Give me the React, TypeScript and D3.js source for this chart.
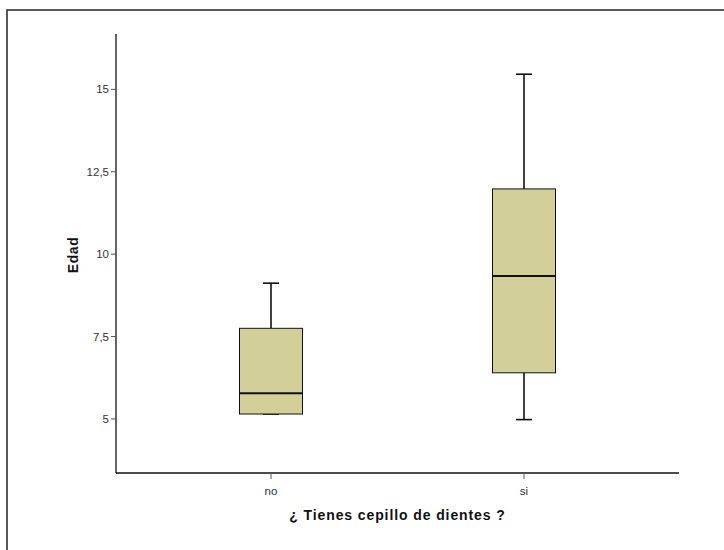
import React from "react";
import * as d3 from "d3";

// Categories and five-number summaries per group
const categories = ["no", "si"];
const whiskerLow = [5.15, 4.98];
const q1 = [5.15, 6.4];
const median = [5.78, 9.34];
const q3 = [7.75, 11.98];
const whiskerHigh = [9.12, 15.46];

const yTicks = [5, 7.5, 10, 12.5, 15];

const W = 724;
const H = 550;
const plotLeft = 116;
const plotRight = 679;
const plotTop = 34;
const plotBottom = 473;

const fmt = (v: number) => String(v).replace(".", ",");

export default function App() {
  const y = d3.scaleLinear().domain([3.36, 16.68]).range([plotBottom, plotTop]);
  const x = d3
    .scalePoint<string>()
    .domain(categories)
    .range([plotLeft, plotRight])
    .padding(0.6126);

  const boxW = 63;
  const capW = 16;
  const font = "'Liberation Sans', Arial, sans-serif";

  return (
    <svg
      width={W}
      height={H}
      style={{ position: "absolute", left: 0, top: 0, background: "#fff" }}
    >
      {/* outer frame */}
      <rect x={7} y={10} width={W + 20} height={H + 20} fill="none" stroke="#222" strokeWidth={1.5} />

      {/* boxes */}
      {categories.map((c, i) => {
        const cx = x(c)!;
        return (
          <g key={c}>
            <line x1={cx} x2={cx} y1={y(whiskerHigh[i])} y2={y(q3[i])} stroke="#111" strokeWidth={1.6} />
            <line x1={cx} x2={cx} y1={y(q1[i])} y2={y(whiskerLow[i])} stroke="#111" strokeWidth={1.6} />
            <line x1={cx - capW / 2} x2={cx + capW / 2} y1={y(whiskerHigh[i])} y2={y(whiskerHigh[i])} stroke="#111" strokeWidth={1.6} />
            <line x1={cx - capW / 2} x2={cx + capW / 2} y1={y(whiskerLow[i])} y2={y(whiskerLow[i])} stroke="#111" strokeWidth={1.6} />
            <rect
              x={cx - boxW / 2}
              y={y(q3[i])}
              width={boxW}
              height={y(q1[i]) - y(q3[i])}
              fill="#d3cf98"
              stroke="#111"
              strokeWidth={1}
            />
            <line x1={cx - boxW / 2} x2={cx + boxW / 2} y1={y(median[i])} y2={y(median[i])} stroke="#111" strokeWidth={2} />
          </g>
        );
      })}

      {/* y axis */}
      <line x1={plotLeft} x2={plotLeft} y1={plotTop} y2={plotBottom} stroke="#111" strokeWidth={1.3} />
      {yTicks.map((t) => (
        <g key={t}>
          <line x1={plotLeft - 5} x2={plotLeft} y1={y(t)} y2={y(t)} stroke="#555" strokeWidth={1} />
          <text
            x={plotLeft - 7}
            y={y(t)}
            dy="0.35em"
            textAnchor="end"
            fontFamily={font}
            fontSize={11.5}
            fill="#333"
          >
            {fmt(t)}
          </text>
        </g>
      ))}

      {/* x axis */}
      <line x1={plotLeft} x2={plotRight} y1={plotBottom} y2={plotBottom} stroke="#111" strokeWidth={1.3} />
      {categories.map((c) => (
        <g key={c}>
          <line x1={x(c)!} x2={x(c)!} y1={plotBottom} y2={plotBottom + 6} stroke="#555" strokeWidth={1} />
          <text x={x(c)!} y={plotBottom + 22} textAnchor="middle" fontFamily={font} fontSize={11.5} fill="#333">
            {c}
          </text>
        </g>
      ))}

      {/* axis titles */}
      <text
        transform={`translate(78, 255) rotate(-90)`}
        textAnchor="middle"
        fontFamily={font}
        fontWeight="bold"
        fontSize={14}
        letterSpacing={0.6}
        fill="#111"
      >
        Edad
      </text>
      <text
        x={(plotLeft + plotRight) / 2}
        y={plotBottom + 47}
        textAnchor="middle"
        fontFamily={font}
        fontWeight="bold"
        fontSize={14}
        letterSpacing={0.9}
        fill="#111"
      >
        ¿ Tienes cepillo de dientes ?
      </text>
    </svg>
  );
}
